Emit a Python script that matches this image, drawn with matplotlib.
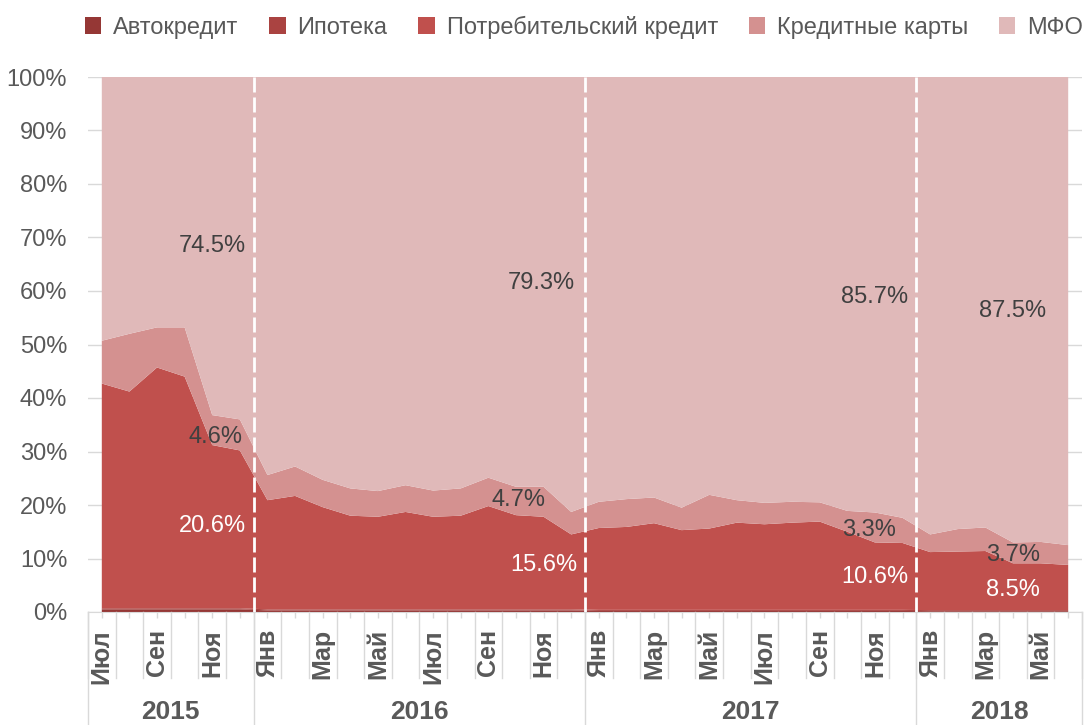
import numpy as np
import matplotlib
matplotlib.use('Agg')
import matplotlib.pyplot as plt
import matplotlib.transforms as mtransforms
from matplotlib import font_manager
from matplotlib.patches import Patch

names = {f.name for f in font_manager.fontManager.ttflist}
fam = 'Liberation Sans Narrow' if 'Liberation Sans Narrow' in names else 'Liberation Sans'
plt.rcParams['font.family'] = [fam, 'DejaVu Sans']

# data: shares in %, Jul 2015 .. Jun 2018
mnames = ['Янв', 'Фев', 'Мар', 'Апр', 'Май', 'Июн', 'Июл', 'Авг', 'Сен', 'Окт', 'Ноя', 'Дек']
months = mnames[6:] + mnames + mnames + mnames[:6]
years = ['2015', '2016', '2017', '2018']
year_len = [6, 12, 12, 6]

auto = [0.5] * 6 + [0.3] * 12 + [0.2] * 12 + [0.15] * 6
mortgage = [0.2] * 36
consumer = [42.0, 40.5, 45.0, 43.3, 30.5, 29.5,
            20.4, 21.2, 19.1, 17.5, 17.3, 18.2, 17.3, 17.5, 19.3, 17.6, 17.3, 14.0,
            15.3, 15.5, 16.2, 14.9, 15.2, 16.3, 16.0, 16.3, 16.5, 14.6, 12.6, 12.5,
            10.85, 10.95, 11.05, 8.75, 8.75, 8.45]
cards = [8.0, 10.8, 7.5, 9.2, 5.6, 5.8,
         4.7, 5.5, 5.1, 5.1, 4.8, 5.0, 4.9, 5.1, 5.3, 5.3, 5.6, 4.2,
         4.9, 5.2, 4.8, 4.2, 6.3, 4.2, 4.0, 3.9, 3.6, 3.9, 5.6, 4.7,
         3.3, 4.2, 4.4, 3.9, 4.0, 3.7]
mfo = [49.3, 48.0, 46.8, 46.8, 63.2, 64.0,
       74.4, 72.8, 75.3, 76.9, 77.4, 76.3, 77.3, 76.9, 74.9, 76.6, 76.6, 81.3,
       79.4, 78.9, 78.6, 80.5, 78.1, 79.1, 79.6, 79.4, 79.5, 81.1, 81.4, 82.4,
       85.5, 84.5, 84.2, 87.0, 86.9, 87.5]

series = ['Автокредит', 'Ипотека', 'Потребительский кредит', 'Кредитные карты', 'МФО']
colors = ['#953735', '#AA4341', '#C0504D', '#D49190', '#E0B9B9']

vals = np.array([auto, mortgage, consumer, cards, mfo], dtype=float)
vals = vals / vals.sum(axis=0) * 100
x = np.arange(len(months))

fig = plt.figure(figsize=(10.87, 7.25), dpi=100)
ax = fig.add_axes([88 / 1087, 1 - 612 / 725, 994 / 1087, 535 / 725])

ax.stackplot(x, vals, colors=colors, linewidth=0, zorder=2)
ax.set_xlim(-0.5, 35.5)
ax.set_ylim(0, 100)
ax.set_yticks(np.arange(0, 101, 10))
ax.set_yticklabels([f'{v}%' for v in range(0, 101, 10)])
ax.yaxis.grid(True, color='#D9D9D9', lw=1, zorder=0)
ax.set_axisbelow(True)
ax.tick_params(axis='y', length=0, labelsize=17, colors='#595959', pad=15)
for s in ['left', 'top', 'right']:
    ax.spines[s].set_visible(False)
ax.spines['bottom'].set_color('#D9D9D9')
ax.spines['bottom'].set_zorder(3)

# year separators
bounds = np.cumsum([0] + year_len) - 0.5
for b in bounds[1:-1]:
    ax.axvline(b, color='white', lw=2, ls=(0, (5.4, 1.8)), zorder=4)

# multi-level category axis
ax.set_xticks(x)
ax.set_xticklabels([])
ax.tick_params(axis='x', length=4, color='#D9D9D9', width=1)
trans = mtransforms.blended_transform_factory(ax.transData, ax.transAxes)
for b in np.arange(-0.5, 36, 1):
    ax.plot([b, b], [0, -66 / 535], transform=trans, color='#D9D9D9', lw=1, clip_on=False)
for b in bounds:
    ax.plot([b, b], [0, -113 / 535], transform=trans, color='#D9D9D9', lw=1, clip_on=False)
for k in range(0, len(months), 2):
    ax.text(k, -17 / 535, months[k], rotation=90, ha='center', va='top', transform=trans,
            fontsize=18, fontweight='bold', color='#595959')
for i, yr in enumerate(years):
    ax.text((bounds[i] + bounds[i + 1]) / 2, -100 / 535, yr, ha='center', va='center',
            transform=trans, fontsize=19, fontweight='bold', color='#595959')

# annotations
notes = [(4.0, 68.4, '74.5%', '#404040'), (4.1, 32.7, '4.6%', '#404040'), (4.0, 16.1, '20.6%', 'white'),
         (15.9, 61.5, '79.3%', '#404040'), (15.1, 20.9, '4.7%', '#404040'), (16.0, 8.8, '15.6%', 'white'),
         (28.0, 58.9, '85.7%', '#404040'), (27.8, 15.3, '3.3%', '#404040'), (28.0, 6.5, '10.6%', 'white'),
         (33.0, 56.3, '87.5%', '#404040'), (33.0, 10.7, '3.7%', '#404040'), (33.0, 4.1, '8.5%', 'white')]
for nx, ny, t, c in notes:
    ax.text(nx, ny, t, ha='center', va='center', fontsize=17, color=c, zorder=5)

handles = [Patch(facecolor=c, edgecolor='none') for c in colors]
fig.legend(handles, series, loc='center', bbox_to_anchor=(584 / 1087, 1 - 27 / 725), ncol=5,
           frameon=False, fontsize=17, labelcolor='#595959', handlelength=0.7, handleheight=0.7,
           handletextpad=0.5, columnspacing=1.3)

fig.savefig('out.png', dpi=100)
